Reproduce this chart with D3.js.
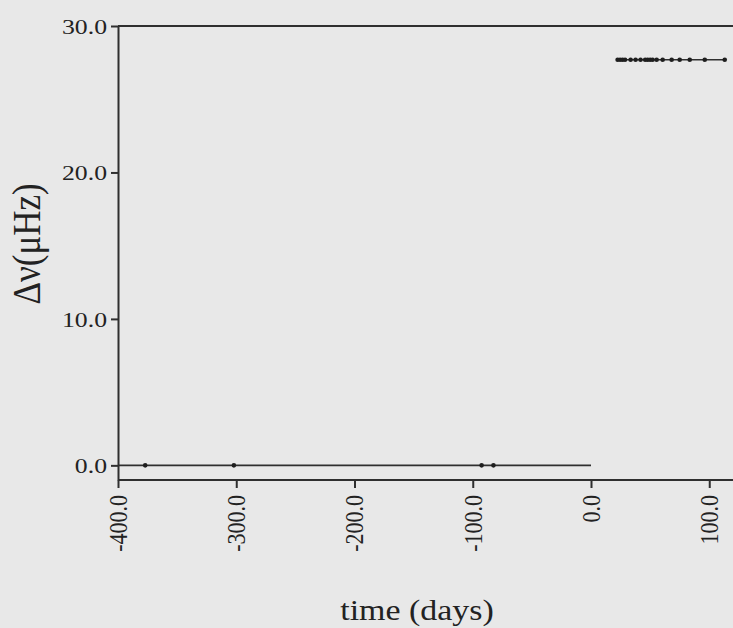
<!DOCTYPE html>
<html>
<head>
<meta charset="utf-8">
<script src="https://cdn.jsdelivr.net/npm/d3@7/dist/d3.min.js"></script>
<style>
  html, body { margin: 0; padding: 0; background: #e8e8e8; }
  svg { display: block; }
  text { font-family: "Liberation Serif", "Times New Roman", serif; fill: #222; }
</style>
</head>
<body>
<svg id="chart" width="733" height="628"></svg>
<script>
// values
const xTickValues = [-400, -300, -200, -100, 0, 100];
const yTickValues = [0, 10, 20, 30];

const baseTimes = [-400, 0];
const baseShift = [0, 0];

const lowerTimes = [-377, -302, -92.5, -82.5];
const lowerShift = [0, 0, 0, 0];

const upperTimes = [22.5, 24.6, 26.7, 28.8, 33.5, 37.7, 41.9, 45.8, 47.9, 50.0, 52.1, 55.5, 60.6, 68.2, 75.0, 83.5, 96.2, 113.1];
const upperShift = [27.7, 27.7, 27.7, 27.7, 27.7, 27.7, 27.7, 27.7, 27.7, 27.7, 27.7, 27.7, 27.7, 27.7, 27.7, 27.7, 27.7, 27.7];

const stretch = 1.17; // the scan is wider than it is tall
const ink = "#2f2f2f";
const fmt = (d) => d.toFixed(1); // plain hyphen minus, like the original

const svg = d3.select("#chart");
const width = 733;

const x = d3.scaleLinear().domain([-400, 125]).range([118, 118 + 525 * 1.1825]);
const y = d3.scaleLinear().domain([-1, 30]).range([480, 26]);

// top frame line
svg.append("line")
  .attr("x1", x(-400)).attr("x2", width)
  .attr("y1", y(30)).attr("y2", y(30))
  .attr("stroke", ink).attr("stroke-width", 2);

const xAxis = svg.append("g")
  .attr("transform", `translate(0,${y(-1)})`)
  .call(d3.axisBottom(x).tickValues(xTickValues).tickFormat(fmt).tickSize(8).tickSizeOuter(0));

const yAxis = svg.append("g")
  .attr("transform", `translate(${x(-400)},0)`)
  .call(d3.axisLeft(y).tickValues(yTickValues).tickFormat(fmt).tickSize(7).tickSizeOuter(0));

for (const g of [xAxis, yAxis]) {
  g.attr("font-family", null);
  g.select(".domain").attr("stroke", ink).attr("stroke-width", 2);
  g.selectAll(".tick line").attr("stroke", ink).attr("stroke-width", 2);
  g.selectAll("text").attr("fill", "#222").style("font-size", "22px");
}
xAxis.select(".domain").attr("d", `M${x(-400)},0H${width}`);

xAxis.selectAll(".tick text")
  .attr("x", 0).attr("y", 0).attr("dy", "0.33em")
  .attr("text-anchor", "end")
  .attr("transform", `translate(0,15) scale(${stretch},1) rotate(-90)`);

yAxis.selectAll(".tick text")
  .attr("x", 0).attr("dy", "0.33em")
  .attr("text-anchor", "end")
  .attr("transform", `translate(-11,0) scale(${stretch},1)`);

// data
const line = d3.line().x((d) => x(d[0])).y((d) => y(d[1]));
const baseData = baseTimes.map((t, i) => [t, baseShift[i]]);
const lowerData = lowerTimes.map((t, i) => [t, lowerShift[i]]);
const upperData = upperTimes.map((t, i) => [t, upperShift[i]]);

svg.append("path").datum(baseData)
  .attr("d", line).attr("fill", "none").attr("stroke", ink).attr("stroke-width", 1.6);
svg.append("path").datum(upperData)
  .attr("d", line).attr("fill", "none").attr("stroke", ink).attr("stroke-width", 1.6);

svg.append("g").selectAll("circle")
  .data(lowerData.concat(upperData))
  .join("circle")
  .attr("cx", (d) => x(d[0]))
  .attr("cy", (d) => y(d[1]))
  .attr("r", 2.3)
  .attr("fill", "#1e1e1e");

// axis titles
svg.append("text")
  .attr("transform", `translate(417,620) scale(${stretch},1)`)
  .attr("text-anchor", "middle")
  .style("font-size", "29px")
  .text("time (days)");

svg.append("text")
  .attr("transform", `translate(40,244) scale(${stretch},1) rotate(-90)`)
  .attr("text-anchor", "middle")
  .style("font-size", "35px")
  .text("Δν(μHz)");
</script>
</body>
</html>
